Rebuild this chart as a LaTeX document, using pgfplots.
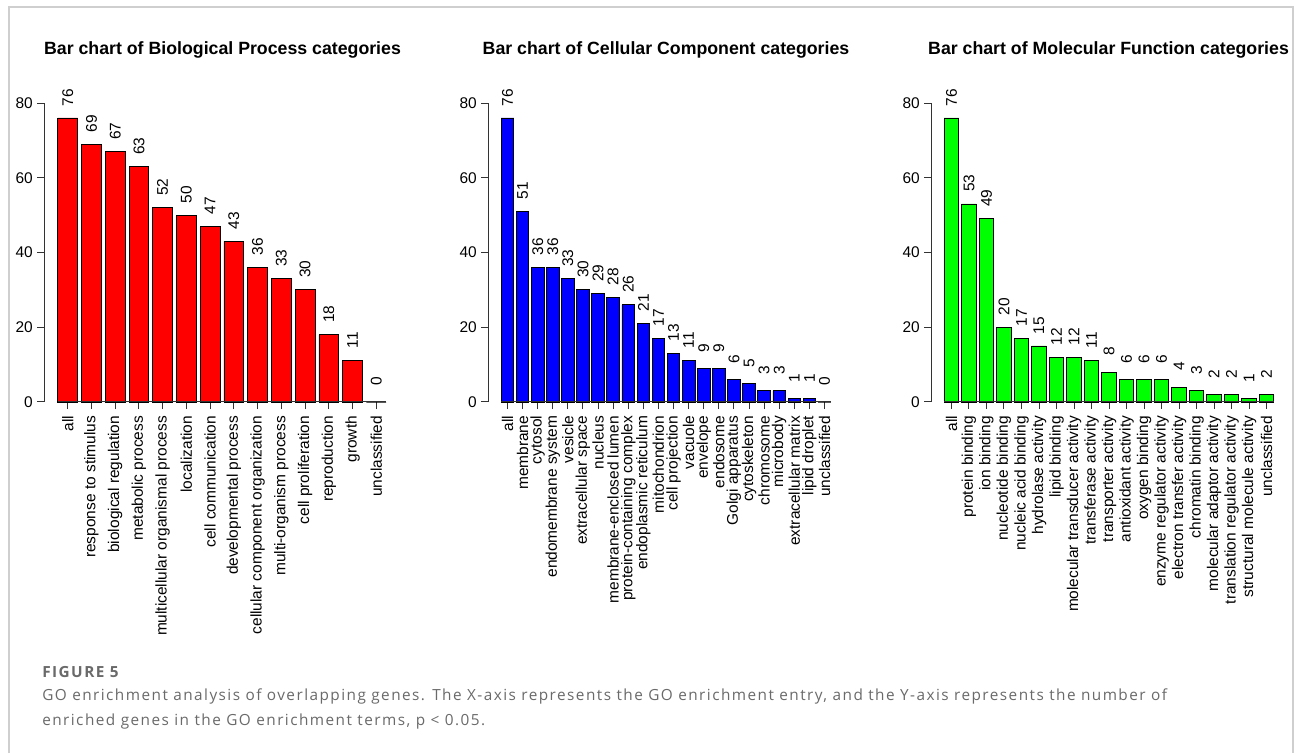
\documentclass[border=0pt]{standalone}
\usepackage{fontspec}
\setmainfont{Liberation Sans}
\newfontfamily\capfont[LetterSpace=9.5]{Open Sans}
\usepackage{pgfplots}
\pgfplotsset{compat=1.18}

\definecolor{capgray}{HTML}{6A6A6A}
\definecolor{framegray}{HTML}{CFCFCF}
\definecolor{axgray}{HTML}{333333}

\newcommand{\lblfont}{\fontsize{11.6}{13}\selectfont}

% 1 px of the reference = 0.75pt here
\pgfplotsset{
  gobar/.style={
    scale only axis,
    anchor=south west,
    height=224.25pt,
    width=267pt,
    ymin=0, ymax=80,
    ytick={0,20,40,60,80},
    axis lines*=left,
    axis line style={draw=none},
    tick align=outside,
    major tick length=5.25pt,
    tick style={axgray, line width=0.75pt},
    clip=false,
    ybar,
    bar width=0.8333,
    bar shift=0pt,
    /pgf/number format/assume math mode=true,
    xticklabel style={rotate=90, anchor=east, inner sep=0pt, font=\lblfont},
    yticklabel style={anchor=east, inner sep=0pt, font=\lblfont},
    xticklabel shift=5pt,
    yticklabel shift=3pt,
    nodes near coords,
    every node near coord/.style={yshift=15.4pt, rotate=90, anchor=center, inner sep=0pt, font=\lblfont, black},
  }
}

\begin{document}
\begin{tikzpicture}
\useasboundingbox (0,0) rectangle (971.25pt,564.75pt);
\fill[white] (0,0) rectangle (971.25pt,564.75pt);
\draw[framegray, line width=0.9pt] (6.75pt,0) -- (6.75pt,559.5pt) -- (969.75pt,559.5pt) -- (969.75pt,0);

% Biological Process
\begin{axis}[gobar, at={(33pt,263.25pt)}, xmin=-1, xmax=14,
  xtick={0,...,13},
  xticklabels={all, response to stimulus, biological regulation, metabolic process,
    multicellular organismal process, localization, cell communication,
    developmental process, cellular component organization, multi-organism process,
    cell proliferation, reproduction, growth, unclassified}]
  \addplot[fill=red, draw=black, line width=0.6pt] coordinates {
    (0,76) (1,69) (2,67) (3,63) (4,52) (5,50) (6,47)
    (7,43) (8,36) (9,33) (10,30) (11,18) (12,11) (13,0)};
  \draw[axgray, line width=0.75pt] (axis cs:-1,0) -- (axis cs:-1,80);
  \draw[axgray, line width=0.75pt] (axis cs:-0.4167,0) -- (axis cs:13.4167,0);
\end{axis}

% Cellular Component
\begin{axis}[gobar, at={(366pt,263.25pt)}, xmin=-1.29, xmax=22.29,
  xtick={0,...,21},
  xticklabels={all, membrane, cytosol, endomembrane system, vesicle,
    extracellular space, nucleus, membrane-enclosed lumen, protein-containing complex,
    endoplasmic reticulum, mitochondrion, cell projection, vacuole, envelope,
    endosome, Golgi apparatus, cytoskeleton, chromosome, microbody,
    extracellular matrix, lipid droplet, unclassified}]
  \addplot[fill=blue, draw=black, line width=0.6pt] coordinates {
    (0,76) (1,51) (2,36) (3,36) (4,33) (5,30) (6,29) (7,28) (8,26) (9,21) (10,17)
    (11,13) (12,11) (13,9) (14,9) (15,6) (16,5) (17,3) (18,3) (19,1) (20,1) (21,0)};
  \draw[axgray, line width=0.75pt] (axis cs:-1.29,0) -- (axis cs:-1.29,80);
  \draw[axgray, line width=0.75pt] (axis cs:-0.4167,0) -- (axis cs:21.4167,0);
\end{axis}

% Molecular Function
\begin{axis}[gobar, at={(698.25pt,263.25pt)}, xmin=-1.17, xmax=19.17,
  xtick={0,...,18},
  xticklabels={all, protein binding, ion binding, nucleotide binding,
    nucleic acid binding, hydrolase activity, lipid binding,
    molecular transducer activity, transferase activity, transporter activity,
    antioxidant activity, oxygen binding, enzyme regulator activity,
    electron transfer activity, chromatin binding, molecular adaptor activity,
    translation regulator activity, structural molecule activity, unclassified}]
  \addplot[fill=green, draw=black, line width=0.6pt] coordinates {
    (0,76) (1,53) (2,49) (3,20) (4,17) (5,15) (6,12) (7,12) (8,11) (9,8)
    (10,6) (11,6) (12,6) (13,4) (14,3) (15,2) (16,2) (17,1) (18,2)};
  \draw[axgray, line width=0.75pt] (axis cs:-1.17,0) -- (axis cs:-1.17,80);
  \draw[axgray, line width=0.75pt] (axis cs:-0.4167,0) -- (axis cs:18.4167,0);
\end{axis}

% panel titles
\node[font=\bfseries\fontsize{13.3}{15}\selectfont, anchor=base] at (166.9pt,523.5pt) {Bar chart of Biological Process categories};
\node[font=\bfseries\fontsize{13.3}{15}\selectfont, anchor=base] at (499.5pt,523.5pt) {Bar chart of Cellular Component categories};
\node[font=\bfseries\fontsize{13.3}{15}\selectfont, anchor=base] at (831.4pt,523.5pt) {Bar chart of Molecular Function categories};

% caption
\node[font=\capfont\bfseries\fontsize{11.5}{14}\selectfont, text=capgray, anchor=base west, inner sep=0pt] at (31.5pt,56.25pt) {FIGURE 5};
\node[font=\capfont\fontsize{11.5}{14}\selectfont, text=capgray, anchor=base west, inner sep=0pt] at (31.5pt,39pt) {GO enrichment analysis of overlapping genes. The X-axis represents the GO enrichment entry, and the Y-axis represents the number of};
\node[font=\capfont\fontsize{11.5}{14}\selectfont, text=capgray, anchor=base west, inner sep=0pt] at (31.5pt,21pt) {enriched genes in the GO enrichment terms, p < 0.05.};
\end{tikzpicture}
\end{document}
